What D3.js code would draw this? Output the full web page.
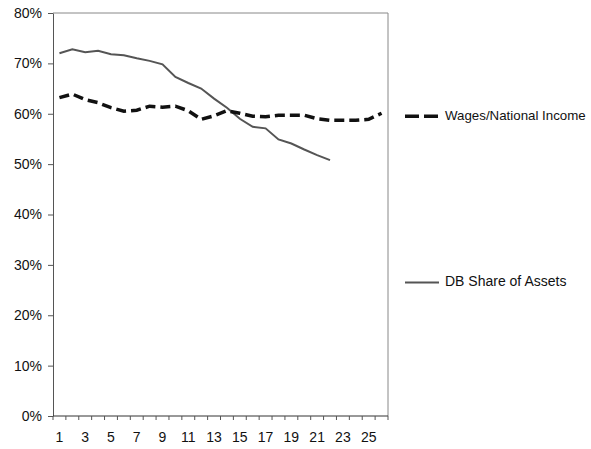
<!DOCTYPE html>
<html>
<head>
<meta charset="utf-8">
<script src="https://cdn.jsdelivr.net/npm/d3@7"></script>
<style>
  body { margin: 0; background: #fff; }
  svg { font-family: "Liberation Sans", Arial, sans-serif; }
</style>
</head>
<body>
<div id="chart"></div>
<script>
// Data (percent)
const periods = d3.range(1, 27);
const wages = [63.2, 63.9, 62.8, 62.2, 61.2, 60.5, 60.7, 61.5, 61.3, 61.5, 60.6, 58.9, 59.6,
  60.6, 60.1, 59.5, 59.4, 59.7, 59.7, 59.7, 59.0, 58.7, 58.7, 58.7, 58.9, 60.1];
const dbShare = [72.0, 72.8, 72.2, 72.5, 71.8, 71.6, 71.0, 70.5, 69.8, 67.3, 66.1, 65.0, 63.0,
  61.2, 59.0, 57.4, 57.1, 54.9, 54.1, 52.9, 51.8, 50.8];
const yTicks = [0, 10, 20, 30, 40, 50, 60, 70, 80];

const margin = {top: 13, right: 203, bottom: 33, left: 53};
const width = 591 - margin.left - margin.right;
const height = 449 - margin.top - margin.bottom;

const svg = d3.select("#chart")
  .append("svg")
  .attr("width", 591)
  .attr("height", 449)
  .append("g")
  .attr("transform", `translate(${margin.left},${margin.top})`);

const x = d3.scaleBand()
  .domain(periods)
  .range([0, width]);

const y = d3.scaleLinear()
  .domain([0, 80])
  .range([height, 0]);

const cx = d => x(d) + x.bandwidth() / 2;

// Plot frame (top and right)
svg.append("path")
  .attr("d", `M0,0H${width}V${height}`)
  .attr("fill", "none")
  .attr("stroke", "#888")
  .attr("stroke-width", 1);

// Y axis
const yAxis = svg.append("g")
  .call(d3.axisLeft(y).tickValues(yTicks).tickFormat(d => d + "%").tickSize(5).tickSizeOuter(0));
yAxis.select(".domain").attr("stroke", "#555");
yAxis.selectAll(".tick line").attr("stroke", "#555");
yAxis.selectAll("text")
  .attr("x", -11)
  .style("font-size", "14px")
  .attr("fill", "#111");

// X axis: ticks at category boundaries, labels every other period
const xAxis = svg.append("g")
  .attr("transform", `translate(0,${height})`);
xAxis.append("line")
  .attr("x1", 0).attr("x2", width)
  .attr("stroke", "#333");
xAxis.selectAll(".bt")
  .data(periods.concat([27]))
  .enter()
  .append("line")
  .attr("x1", d => d <= 26 ? x(d) : width)
  .attr("x2", d => d <= 26 ? x(d) : width)
  .attr("y1", 0)
  .attr("y2", 4)
  .attr("stroke", "#555");
xAxis.selectAll(".lbl")
  .data(periods.filter(d => d % 2 === 1))
  .enter()
  .append("text")
  .attr("x", d => cx(d))
  .attr("y", 26)
  .attr("text-anchor", "middle")
  .style("font-size", "14px")
  .attr("fill", "#111")
  .text(d => d);

// Lines
const line = d3.line()
  .x((d, i) => cx(periods[i]))
  .y(d => y(d));

svg.append("path")
  .datum(dbShare)
  .attr("fill", "none")
  .attr("stroke", "#555")
  .attr("stroke-width", 2)
  .attr("d", line);

svg.append("path")
  .datum(wages)
  .attr("fill", "none")
  .attr("stroke", "#111")
  .attr("stroke-width", 3.5)
  .attr("stroke-dasharray", "10,5")
  .attr("d", line);

// Legend
const legend = svg.append("g")
  .attr("transform", `translate(${width + 17}, 0)`);

legend.append("line")
  .attr("x1", 0).attr("x2", 34)
  .attr("y1", y(59.5)).attr("y2", y(59.5))
  .attr("stroke", "#111")
  .attr("stroke-width", 3.5)
  .attr("stroke-dasharray", "14,5");
legend.append("text")
  .attr("x", 40)
  .attr("y", y(59.5))
  .attr("dominant-baseline", "middle")
  .style("font-size", "13.3px")
  .attr("fill", "#111")
  .text("Wages/National Income");

legend.append("line")
  .attr("x1", 0).attr("x2", 34)
  .attr("y1", y(26.5)).attr("y2", y(26.5))
  .attr("stroke", "#555")
  .attr("stroke-width", 2);
legend.append("text")
  .attr("x", 40)
  .attr("y", y(26.5))
  .attr("dominant-baseline", "middle")
  .style("font-size", "14px")
  .attr("fill", "#111")
  .text("DB Share of Assets");
</script>
</body>
</html>
